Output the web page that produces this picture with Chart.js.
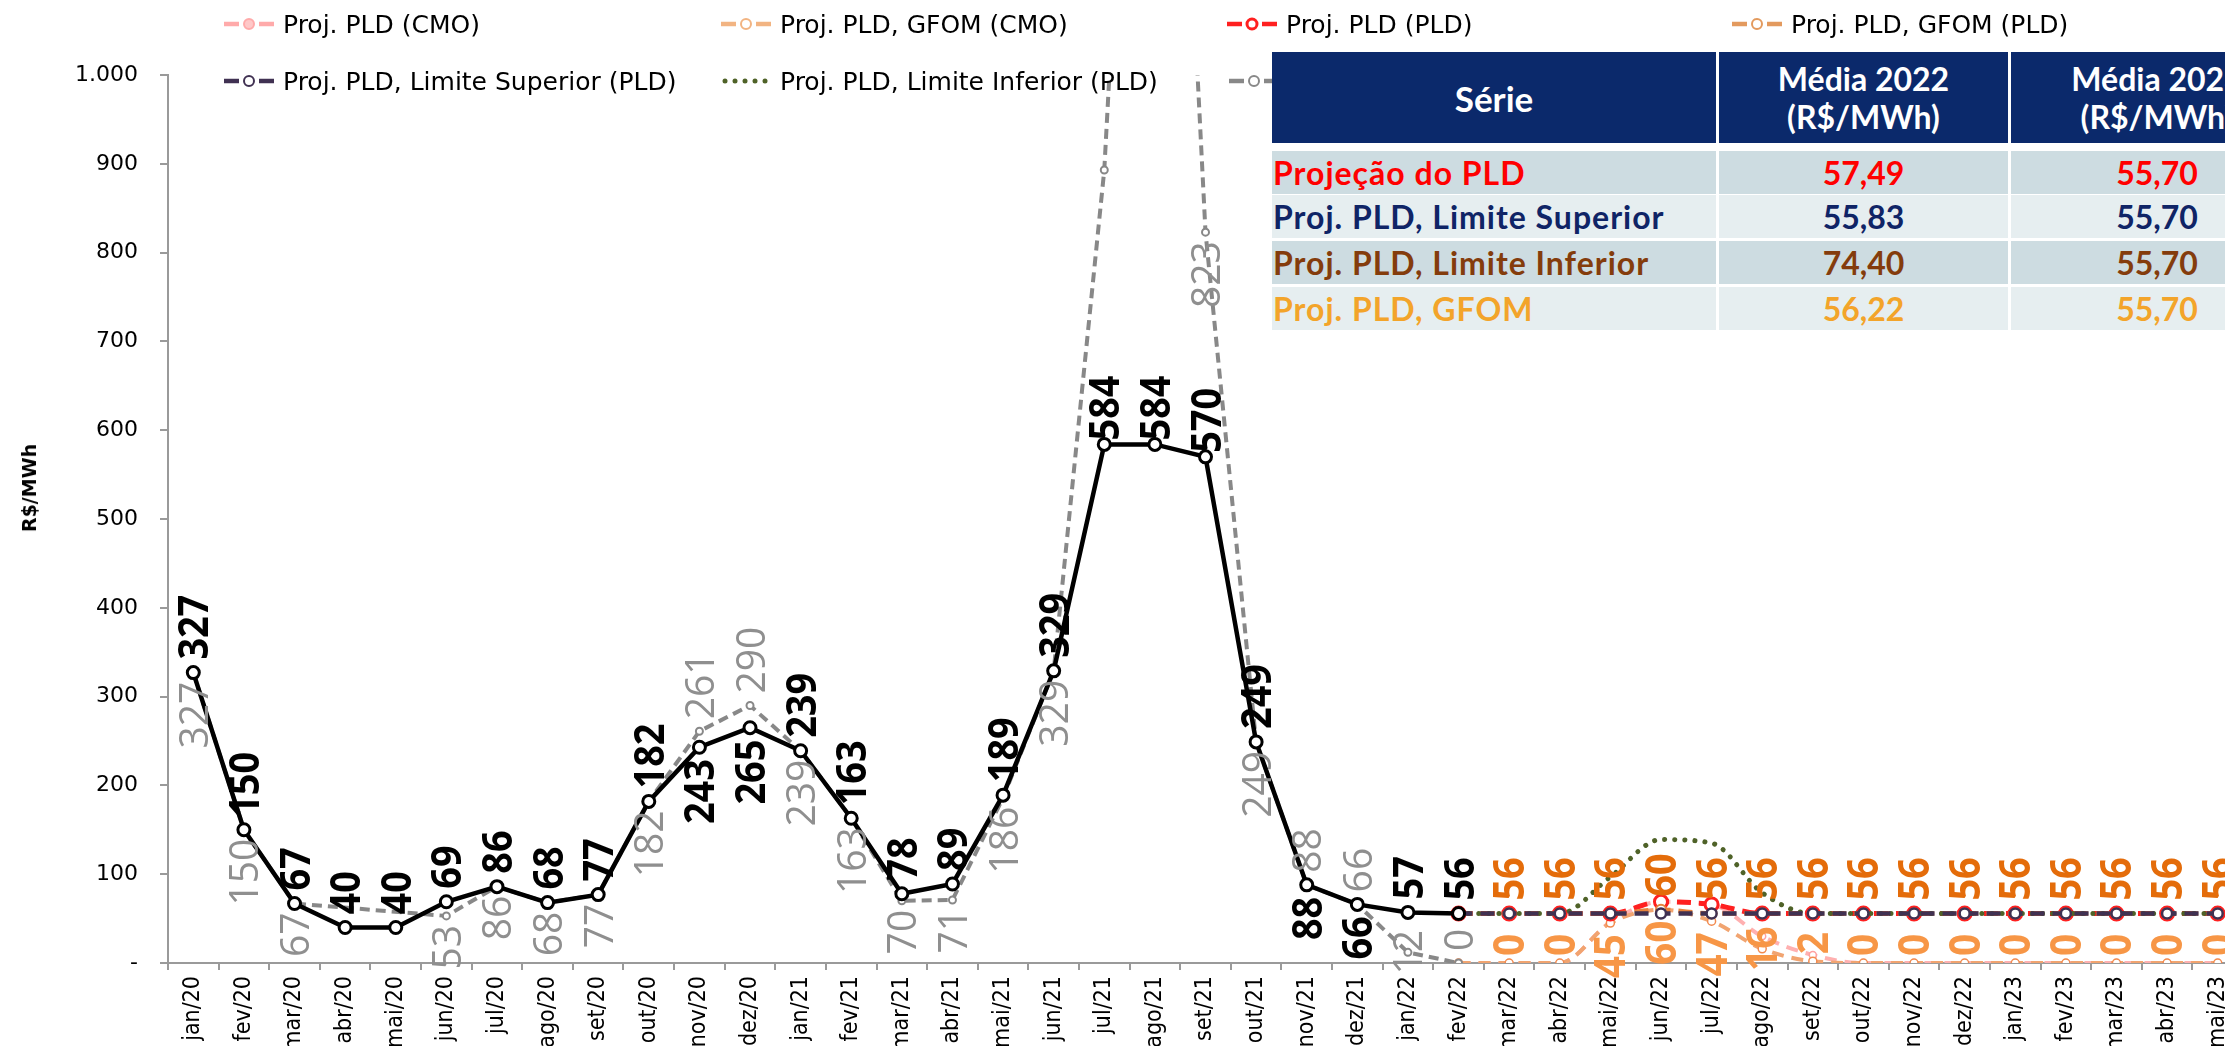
<!DOCTYPE html>
<html><head><meta charset="utf-8">
<script src="https://cdn.jsdelivr.net/npm/chart.js@4.4.1/dist/chart.umd.min.js"></script>
<style>
html,body{margin:0;padding:0;background:#fff;overflow:hidden;width:2225px;height:1046px;}
#wrap{position:relative;width:2225px;height:1046px;overflow:hidden;}
#c{position:absolute;left:0;top:0;}
.leg{position:absolute;height:30px;display:flex;align-items:center;font-family:"DejaVu Sans";font-size:25px;color:#000;white-space:nowrap;}
.leg svg{margin-right:9px;flex:none}
.ytitle{position:absolute;left:29px;top:488px;transform:translate(-50%,-50%) rotate(-90deg);font-family:"DejaVu Sans";font-weight:bold;font-size:19px;white-space:nowrap;}
.cell{position:absolute;display:flex;align-items:center;font-family:Lato;font-weight:bold;white-space:nowrap;box-sizing:border-box;}
.hd{background:#0b296b;color:#fff;justify-content:center;text-align:center;line-height:38px;}
.c1{justify-content:flex-start;padding-left:1px;letter-spacing:1px;}
.cc{justify-content:center;}
</style></head>
<body><div id="wrap">
<canvas id="c" width="2262" height="1046" style="width:2262px;height:1046px"></canvas>
<div class="ytitle">R$/MWh</div>
<div id="legend"></div>
<div id="table"></div>
</div>
<script>
// ---------- data ----------
const months = ['jan/20','fev/20','mar/20','abr/20','mai/20','jun/20','jul/20','ago/20','set/20','out/20','nov/20','dez/20',
'jan/21','fev/21','mar/21','abr/21','mai/21','jun/21','jul/21','ago/21','set/21','out/21','nov/21','dez/21',
'jan/22','fev/22','mar/22','abr/22','mai/22','jun/22','jul/22','ago/22','set/22','out/22','nov/22','dez/22',
'jan/23','fev/23','mar/23','abr/23','mai/23'];
const pldHist = [327,150,67,40,40,69,86,68,77,182,243,265,239,163,78,89,189,329,584,584,570,249,88,66,57,55.7];
const cmoHist = [327,150,67,null,null,53,86,68,77,182,261,290,239,163,70,71,186,329,893,1950,823,249,88,66,12,0];
// projections: fev/22 .. mai/23
const projPldCmo  = [0,0,0,46,69,66,30,9,0,0,0,0,0,0,0,0];
const projGfomCmo = [0,0,0,45,60,47,16,2,0,0,0,0,0,0,0,0];
const projPld     = [55.7,55.7,55.7,55.7,69,66,55.7,55.7,55.7,55.7,55.7,55.7,55.7,55.7,55.7,55.7];
const projGfomPld = [55.7,55.7,55.7,55.7,60,55.7,55.7,55.7,55.7,55.7,55.7,55.7,55.7,55.7,55.7,55.7];
const projLimSup  = [55.7,55.7,55.7,55.7,55.7,55.7,55.7,55.7,55.7,55.7,55.7,55.7,55.7,55.7,55.7,55.7];
const projLimInf  = [55.7,55.7,55.7,97,139,135,79,55.7,55.7,55.7,55.7,55.7,55.7,55.7,55.7,55.7];
const yTicks = [0,100,200,300,400,500,600,700,800,900,1000];
const tableHeader = ['Série','Média 2022<br>(R$/MWh)','Média 2023<br>(R$/MWh)'];
const tableSeries = ['Projeção do PLD','Proj. PLD, Limite Superior','Proj. PLD, Limite Inferior','Proj. PLD, GFOM'];
const media2022 = ['57,49','55,83','74,40','56,22'];
const media2023 = ['55,70','55,70','55,70','55,70'];

// ---------- label placement config (a=above, b=below, c=center, o=close above point) ----------
const blackPos = 'aaaaaaaaaabbaaaaaaoooabbaa'.split('');
const grayPos  = ['b','b','b',null,null,'b','b','b','b','b','a','a','b','b','b','b','b','b',null,null,'b','b','a','a','c','a'];
const projStart = 25;
const upperPos = [null].concat(Array(15).fill('a'));
const lowerPos = [null,'a','a','b','b','b','c','a','a','a','a','a','a','a','a','a'];

function full(hist){ return months.map((m,i)=> i<hist.length ? hist[i] : null); }
function proj(p){ return months.map((m,i)=> i>=projStart ? p[i-projStart] : null); }

const datasets = [
 {label:'PLD', data:full(pldHist), borderColor:'#000', borderWidth:4.5, tension:0,
  pointRadius:6, pointBorderWidth:3, pointBackgroundColor:'#fff', pointBorderColor:'#000',
  lbl:{pos:full(blackPos), font:'bold 42px "Open Sans"', color:'#000', sx:0.9, cap:30, gapA:13, gapB:12, gapO:4}},
 {label:'CMO', data:full(cmoHist), borderColor:'#888', borderWidth:4, borderDash:[10,6], tension:0, spanGaps:true,
  pointRadius:3.5, pointBorderWidth:2, pointBackgroundColor:'#fff', pointBorderColor:'#888',
  lbl:{pos:full(grayPos), font:'41px "Open Sans"', color:'#8f8f8f', sx:0.95, cap:29, gapA:12, gapB:9}},
 {label:'Proj. PLD, Limite Superior (PLD)', data:proj(projLimSup), borderColor:'#403152', borderWidth:4.5, borderDash:[14,8],
  cubicInterpolationMode:'monotone', pointRadius:5, pointBorderWidth:2.5, pointBackgroundColor:'#fff', pointBorderColor:'#403152'},
 {label:'Proj. PLD, Limite Inferior (PLD)', data:proj(projLimInf), borderColor:'#4f6228', borderWidth:5, borderDash:[0.1,10], borderCapStyle:'round',
  cubicInterpolationMode:'monotone', pointRadius:0},
 {label:'Proj. PLD, GFOM (PLD)', data:proj(projGfomPld), borderColor:'#e5823c', borderWidth:4.5, borderDash:[14,8],
  cubicInterpolationMode:'monotone', pointRadius:5, pointBorderWidth:2, pointBackgroundColor:'#fff', pointBorderColor:'#e5823c',
  lbl:{pos:proj(upperPos), font:'bold 43px "Open Sans"', color:'#e46c0a', sx:0.88, cap:30, gapA:13, gapB:12}},
 {label:'Proj. PLD (PLD)', data:proj(projPld), borderColor:'#ff2020', borderWidth:5, borderDash:[14,8],
  cubicInterpolationMode:'monotone', pointRadius:6.5, pointBorderWidth:3, pointBackgroundColor:'#fff', pointBorderColor:'#ff2020'},
 {label:'Proj. PLD, GFOM (CMO)', data:proj(projGfomCmo), borderColor:'#f1a470', borderWidth:4, borderDash:[12,8],
  cubicInterpolationMode:'monotone', pointRadius:4, pointBorderWidth:1.5, pointBackgroundColor:'#fff', pointBorderColor:'#f28a4e',
  lbl:{pos:proj(lowerPos), font:'bold 43px "Open Sans"', color:'#f79646', sx:0.9, cap:30, gapA:7, gapB:11}},
 {label:'Proj. PLD (CMO)', data:proj(projPldCmo), borderColor:'#ffb0b0', borderWidth:4, borderDash:[12,8],
  cubicInterpolationMode:'monotone', pointRadius:3.5, pointBorderWidth:1.5, pointBackgroundColor:'#fff', pointBorderColor:'#ffa0a0'}
];

const labelPlugin = {
  id:'rotLabels',
  afterDatasetsDraw(chart){
    const ctx = chart.ctx;
    chart.data.datasets.forEach((ds,i)=>{
      if(!ds.lbl) return;
      const st = ds.lbl;
      const meta = chart.getDatasetMeta(i);
      meta.data.forEach((pt,j)=>{
        const pos = st.pos[j]; const v = ds.data[j];
        if(!pos || v==null) return;
        const txt = String(Math.round(v));
        ctx.save();
        ctx.font = st.font; ctx.fillStyle = st.color; ctx.textBaseline='alphabetic'; ctx.textAlign='left';
        ctx.translate(pt.x, pt.y);
        ctx.rotate(-Math.PI/2);
        ctx.scale(st.sx,1);
        const w = ctx.measureText(txt).width;
        let tx;
        if(pos==='a') tx = st.gapA/st.sx;
        else if(pos==='o') tx = st.gapO/st.sx;
        else if(pos==='b') tx = -st.gapB/st.sx - w;
        else tx = -w/2;
        ctx.fillText(txt, tx, st.cap/2);
        ctx.restore();
      });
    });
  }
};

function fmt(v){ if(v===0) return '-'; return String(v).replace(/\B(?=(\d{3})+(?!\d))/g,'.'); }

new Chart(document.getElementById('c'), {
  type:'line',
  data:{labels:months, datasets},
  options:{
    responsive:false, animation:false, events:[],
    layout:{padding:{top:75,right:19,left:0,bottom:0}},
    plugins:{legend:{display:false}, tooltip:{enabled:false}},
    scales:{
      x:{offset:true,
        grid:{offset:true, drawOnChartArea:false, drawTicks:true, tickLength:7, color:'#9a9a9a', lineWidth:2},
        border:{color:'#9a9a9a', width:2},
        ticks:{autoSkip:false, minRotation:90, maxRotation:90, padding:6, color:'#000', font:{family:'DejaVu Sans Condensed', size:23}},
        afterFit(s){ s.height = 83; }
      },
      y:{min:0, max:1000, afterBuildTicks(s){ s.ticks = yTicks.map(v=>({value:v})); },
        grid:{drawOnChartArea:false, drawTicks:true, tickLength:8, color:'#9a9a9a', lineWidth:2},
        border:{color:'#9a9a9a', width:2},
        ticks:{padding:22, color:'#000', font:{family:'DejaVu Sans', size:22}, callback:(v)=>fmt(v)},
        afterFit(s){ s.width = 168; }
      }
    }
  },
  plugins:[labelPlugin]
});

// ---------- legend ----------
const legendItems = [
 {text:'Proj. PLD (CMO)', color:'#ffaaaa', fill:'#ffc8c8', x:224, y:24, type:'dm'},
 {text:'Proj. PLD, GFOM (CMO)', color:'#f2b482', fill:'#fff', x:721, y:24, type:'dm'},
 {text:'Proj. PLD (PLD)', color:'#ff2020', fill:'#fff', x:1227, y:24, type:'dm', thick:true},
 {text:'Proj. PLD, GFOM (PLD)', color:'#e39a5e', fill:'#fff', x:1732, y:24, type:'dm'},
 {text:'Proj. PLD, Limite Superior (PLD)', color:'#403152', fill:'#fff', x:224, y:81, type:'dm'},
 {text:'Proj. PLD, Limite Inferior (PLD)', color:'#4f6228', x:721, y:81, type:'dot'},
 {text:'', color:'#888', fill:'#fff', x:1229, y:81, type:'dm'}
];
const legDiv = document.getElementById('legend');
legendItems.forEach(it=>{
  const d = document.createElement('div');
  d.className='leg'; d.style.left=it.x+'px'; d.style.top=(it.y-15)+'px';
  let svg;
  if(it.type==='dot'){
    let c=''; for(let k=0;k<5;k++) c+=`<circle cx="${4+k*10}" cy="10" r="2.5" fill="${it.color}"/>`;
    svg = `<svg width="50" height="20">${c}</svg>`;
  } else {
    const sw = it.thick?3:2;
    svg = `<svg width="50" height="20"><line x1="0" y1="10" x2="15" y2="10" stroke="${it.color}" stroke-width="4.5"/><line x1="35" y1="10" x2="50" y2="10" stroke="${it.color}" stroke-width="4.5"/><circle cx="25" cy="10" r="5" fill="${it.fill}" stroke="${it.color}" stroke-width="${sw}"/></svg>`;
  }
  d.innerHTML = svg + (it.text?`<span>${it.text}</span>`:'');
  legDiv.appendChild(d);
});

// ---------- table ----------
const tbl = document.getElementById('table');
const colX = [1272,1719,2011]; const colW = [444,289,292];
function cell(html, cls, x, y, w, h, style){
  const d = document.createElement('div'); d.className='cell '+cls;
  d.style.left=x+'px'; d.style.top=y+'px'; d.style.width=w+'px'; d.style.height=h+'px';
  Object.assign(d.style, style||{}); d.innerHTML = html; tbl.appendChild(d);
}
tableHeader.forEach((h,i)=> cell(h,'hd',colX[i],52,colW[i],91,{fontSize: i===0?'35px':'32px'}));
const rowColors = ['#ff0000','#0f2466','#843c0c','#f3a42a'];
const rowBg = ['#cddce1','#e6eef0','#cddce1','#e6eef0'];
const rowY = [151,195,241,287];
tableSeries.forEach((s,r)=>{
  const st = {color:rowColors[r], background:rowBg[r], fontSize:'32px'};
  cell(s,'c1',colX[0],rowY[r],colW[0],43,st);
  cell(media2022[r],'cc',colX[1],rowY[r],colW[1],43,st);
  cell(media2023[r],'cc',colX[2],rowY[r],colW[2],43,st);
});
</script>
</body></html>
